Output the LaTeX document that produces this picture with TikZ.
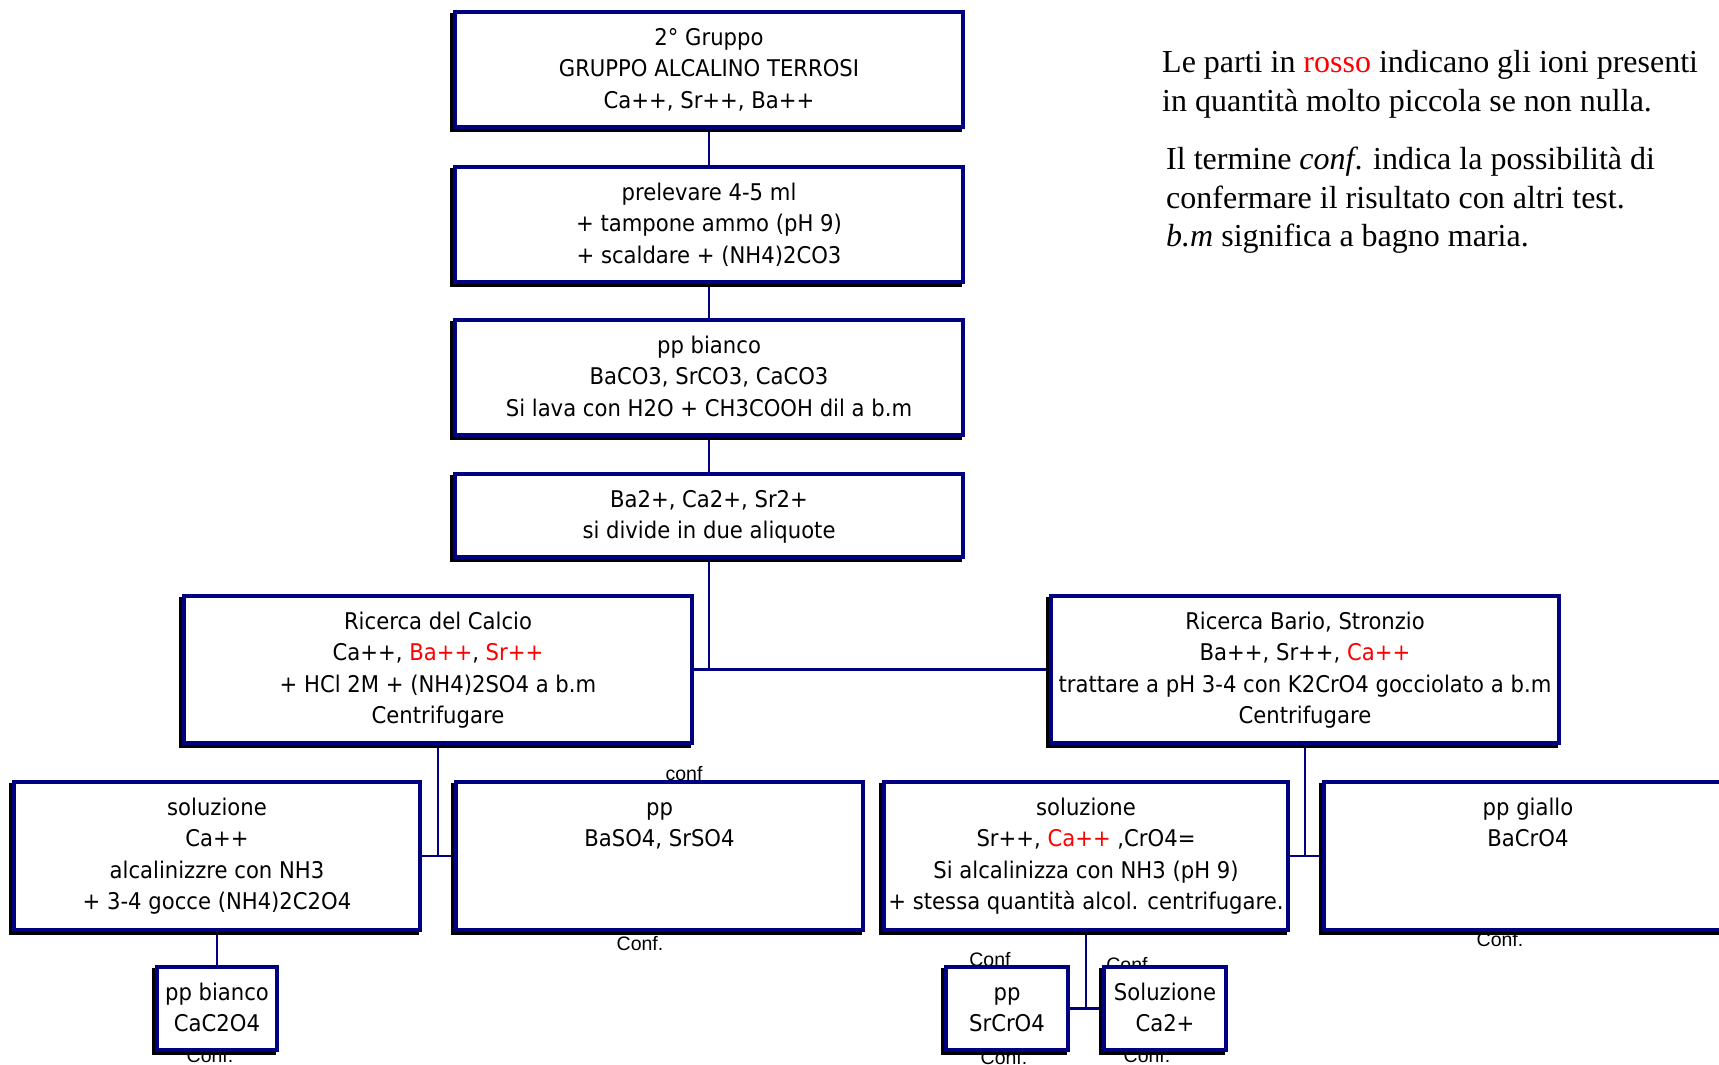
\documentclass[tikz,border=0pt]{standalone}
\usepackage{fontspec}
\setmainfont{Liberation Serif}
\newfontfamily\boxfont{DejaVu Sans}[FakeStretch=0.92]
\newfontfamily\lblfont{Liberation Sans}
\definecolor{navy}{RGB}{0,0,128}
\definecolor{rosso}{RGB}{255,0,0}
\newcommand\rr[1]{\textcolor{rosso}{#1}}
\pgfdeclarelayer{bg}
\pgfsetlayers{bg,main}
\tikzset{
 boxst/.style={draw=navy, line width=4pt, fill=white, inner sep=0pt, outer sep=0pt},
 shadowst/.style={fill=black},
 txtst/.style={font=\boxfont\fontsize{23}{31.5}\selectfont, align=center, inner sep=0pt, anchor=north},
 conn/.style={draw=navy, line width=2.5pt},
 lbl/.style={font=\lblfont\fontsize{19.5}{22}\selectfont, inner sep=0pt, text=black},
 legend/.style={font=\fontsize{32}{37}\selectfont, inner sep=0pt, anchor=base west},
}
\newcommand\chembox[6]{%
 \fill[shadowst] ({#2-5},{#3+1}) rectangle ({#4-1},{#5+5});
 \node[boxst, minimum width={#4-#2}, minimum height={#5-#3}] (#1) at ({(#2+#4)/2},{(#3+#5)/2}) {};
 \node[txtst] (#1t) at ([yshift=-15pt]#1.north) {\rule{0pt}{18pt}#6};
}
\begin{document}
\begin{tikzpicture}[x=1pt,y=-1pt]
\useasboundingbox (0,0) rectangle (1719,1065);
\clip (0,0) rectangle (1719,1065);

\chembox{b1}{455}{12}{963}{127}{2° Gruppo\\GRUPPO ALCALINO TERROSI\\Ca++, Sr++, Ba++}
\chembox{b2}{455}{167}{963}{282}{prelevare 4-5 ml\\+ tampone ammo (pH 9)\\+ scaldare + (NH4)2CO3}
\chembox{b3}{455}{320}{963}{435}{pp bianco\\BaCO3, SrCO3, CaCO3\\Si lava con H2O + CH3COOH dil a b.m}
\chembox{b4}{455}{474}{963}{557}{Ba2+, Ca2+, Sr2+\\si divide in due aliquote}
\chembox{calc}{184}{596}{692}{743}{Ricerca del Calcio\\Ca++, \rr{Ba++}, \rr{Sr++}\\+ HCl 2M + (NH4)2SO4 a b.m\\Centrifugare}
\chembox{bario}{1051}{596}{1559}{743}{Ricerca Bario, Stronzio\\Ba++, Sr++, \rr{Ca++}\\trattare a pH 3-4 con K2CrO4 gocciolato a b.m\\Centrifugare}
\chembox{solL}{14}{782}{420}{930}{soluzione\\Ca++\\alcalinizzre con NH3\\+ 3-4 gocce (NH4)2C2O4}
\chembox{ppBa}{456}{782}{863}{930}{pp\\BaSO4, SrSO4}
\chembox{solR}{884}{782}{1288}{930}{soluzione\\Sr++, \rr{Ca++} ,CrO4=\\Si alcalinizza con NH3 (pH 9)\\+ stessa quantità alcol. centrifugare.}
\chembox{ppY}{1324}{782}{1732}{930}{pp giallo\\BaCrO4}
\chembox{ppbi}{157}{967}{277}{1050}{pp bianco\\CaC2O4}
\chembox{ppSr}{946}{967}{1068}{1050}{pp\\SrCrO4}
\chembox{solCa}{1104}{967}{1226}{1050}{Soluzione\\Ca2+}

\begin{pgfonlayer}{bg}
 \fill[white] (0,0) rectangle (1719,1065);
 \draw[conn] (b1.south) -- (b2.north);
 \draw[conn] (b2.south) -- (b3.north);
 \draw[conn] (b3.south) -- (b4.north);
 \draw[conn] (b4.south) -- (b4.south |- calc.east);
 \draw[conn] (calc.east) -- (bario.west);
 \draw[conn] (calc.south) -- (calc.south |- solL.east);
 \draw[conn] (solL.east) -- (ppBa.west);
 \draw[conn] (bario.south) -- (bario.south |- solR.east);
 \draw[conn] (solR.east) -- (ppY.west);
 \draw[conn] (solL.south) -- (ppbi.north);
 \draw[conn] (solR.south) -- (solR.south |- ppSr.east);
 \draw[conn] (ppSr.east) -- (solCa.west);

 \node[lbl] (c1) at (684,774) {conf};
 \node[lbl] (c2) at (640,944) {Conf.};
 \node[lbl] (c3) at (1500,939.5) {Conf.};
 \node[lbl] (c4) at (990,960) {Conf};
 \node[lbl] (c5) at (1127,965) {Conf};
 \node[lbl] (c6) at (210,1056) {Conf.};
 \node[lbl] (c7) at (1004,1058) {Conf.};
 \node[lbl] (c8) at (1147,1056) {Conf.};
\end{pgfonlayer}

\node[legend] (l1) at (1162,72.5) {Le parti in \textcolor{rosso}{rosso} indicano gli ioni presenti};
\node[legend] (l2) at (1162,111) {in quantità molto piccola se non nulla.};
\node[legend] (l3) at (1166,169) {Il termine \textit{conf}. indica la possibilità di};
\node[legend] (l4) at (1166,208) {confermare il risultato con altri test.};
\node[legend] (l5) at (1166,246) {\textit{b.m} significa a bagno maria.};
\end{tikzpicture}
\end{document}
